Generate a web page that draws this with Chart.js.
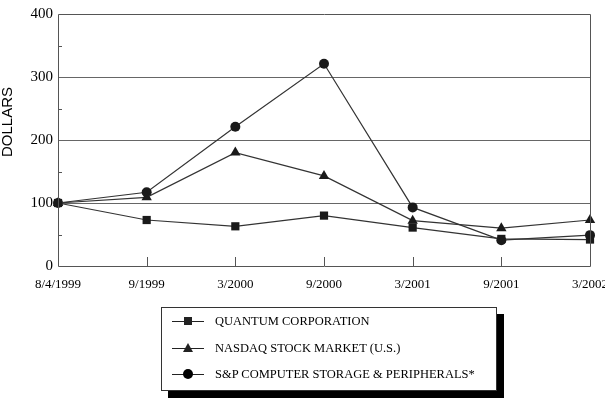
<!DOCTYPE html>
<html>
<head>
<meta charset="utf-8">
<script src="https://cdn.jsdelivr.net/npm/chart.js@4/dist/chart.umd.min.js"></script>
<style>
	body { margin: 0; background: #fff; }
	#wrap { position: relative; width: 605px; height: 398px; }
	#legend {
		position: absolute; left: 161px; top: 307px; width: 334px; height: 82px;
		background: #fff; border: 1px solid #333; box-shadow: 7px 7px 0 #000;
		font-family: "Liberation Serif", "Times New Roman", serif; font-size: 12.5px; color: #000;
	}
	.item { position: absolute; left: 10px; height: 14px; }
	.item .ln { position: absolute; left: 0; top: 7px; width: 32px; height: 1px; background: #222; }
	.item .mk { position: absolute; }
	.item .tx { position: absolute; left: 43px; top: 0; white-space: nowrap; line-height: 14px; }
	.sq { left: 12px; top: 3px; width: 8px; height: 8px; background: #222; }
	.tri { left: 11px; top: 2px; width: 0; height: 0; border-left: 5px solid transparent; border-right: 5px solid transparent; border-bottom: 9px solid #222; }
	.dot { left: 11px; top: 2px; width: 10px; height: 10px; border-radius: 50%; background: #000; }
</style>
</head>
<body>
<div id="wrap">
	<canvas id="chart" width="605" height="398"></canvas>
	<div id="legend"></div>
</div>
<script>
// periods on the x axis
const periods = ['8/4/1999', '9/1999', '3/2000', '9/2000', '3/2001', '9/2001', '3/2002'];

// value of $100 invested
const quantum = [100, 73, 63, 80, 61, 43, 42];
const nasdaq = [100, 109, 180, 143, 72, 60, 73];
const spStorage = [100, 117, 221, 321, 93, 41, 49];

const seriesNames = ['QUANTUM CORPORATION', 'NASDAQ STOCK MARKET (U.S.)', 'S&P COMPUTER STORAGE & PERIPHERALS*'];

const yMajor = [0, 100, 200, 300, 400];

// frame, inward tick marks and the axis title
const framePlugin = {
	id: 'frame',
	afterDraw( chart ) {
		const { ctx, chartArea: a, scales } = chart;
		ctx.save();
		ctx.strokeStyle = '#555';
		ctx.lineWidth = 1;
		ctx.beginPath();
		ctx.rect( a.left + 0.5, a.top + 0.5, a.right - a.left, a.bottom - a.top );
		// x ticks pointing up
		periods.forEach( ( p, i ) => {
			const x = Math.round( scales.x.getPixelForValue( i ) ) + 0.5;
			ctx.moveTo( x, a.bottom );
			ctx.lineTo( x, a.bottom - 9 );
		} );
		// minor y ticks
		[50, 150, 250, 350].forEach( v => {
			const y = Math.round( scales.y.getPixelForValue( v ) ) + 0.5;
			ctx.moveTo( a.left, y );
			ctx.lineTo( a.left + 4, y );
		} );
		ctx.stroke();

		ctx.translate( 8, 122 );
		ctx.rotate( -Math.PI / 2 );
		ctx.fillStyle = '#000';
		ctx.font = '15px "Liberation Sans", Arial, sans-serif';
		ctx.textAlign = 'center';
		ctx.textBaseline = 'middle';
		ctx.fillText( 'DOLLARS', 0, 0 );
		ctx.restore();
	}
};

function lineSet( label, data, style, radius ) {
	return {
		label,
		data,
		borderColor: '#333',
		borderWidth: 1.2,
		backgroundColor: '#1a1a1a',
		pointBackgroundColor: '#1a1a1a',
		pointBorderColor: '#1a1a1a',
		pointBorderWidth: 0,
		pointStyle: style,
		pointRadius: radius,
		tension: 0
	};
}

new Chart( document.getElementById( 'chart' ), {
	type: 'line',
	data: {
		labels: periods,
		datasets: [
			lineSet( seriesNames[ 0 ], quantum, 'rect', 5.8 ),
			lineSet( seriesNames[ 1 ], nasdaq, 'triangle', 6 ),
			lineSet( seriesNames[ 2 ], spStorage, 'circle', 5 )
		]
	},
	options: {
		responsive: false,
		animation: false,
		clip: false,
		layout: { padding: { top: 4, right: 15, left: 0, bottom: 0 } },
		plugins: { legend: { display: false }, tooltip: { enabled: false } },
		scales: {
			x: {
				offset: false,
				grid: { drawOnChartArea: false, drawTicks: false },
				border: { display: false },
				ticks: {
					color: '#000',
					padding: 11,
					maxRotation: 0,
					autoSkip: false,
					font: { family: '"Liberation Serif", "Times New Roman", serif', size: 13 }
				},
				afterFit( scale ) {
					scale.height = 132;
					scale.paddingLeft = 0;
					scale.paddingRight = 0;
				}
			},
			y: {
				min: 0,
				max: 400,
				grid: {
					drawTicks: false,
					color: c => ( c.tick && [100, 200, 300].includes( c.tick.value ) ) ? '#666' : 'rgba(0,0,0,0)'
				},
				border: { display: false },
				ticks: {
					stepSize: 50,
					padding: 5,
					color: '#000',
					font: { family: '"Liberation Serif", "Times New Roman", serif', size: 15 },
					callback: v => yMajor.includes( v ) ? v : ''
				},
				afterFit( scale ) {
					scale.width = 58;
				}
			}
		}
	},
	plugins: [ framePlugin ]
} );

// legend box
const marks = ['sq', 'tri', 'dot'];
const rowsTop = [6, 33, 59];
const legendBox = document.getElementById( 'legend' );
seriesNames.forEach( ( name, i ) => {
	const row = document.createElement( 'div' );
	row.className = 'item';
	row.style.top = rowsTop[ i ] + 'px';
	row.innerHTML = `<div class="ln"></div><div class="mk ${ marks[ i ] }"></div><div class="tx"></div>`;
	row.querySelector( '.tx' ).textContent = name;
	legendBox.appendChild( row );
} );
</script>
</body>
</html>
